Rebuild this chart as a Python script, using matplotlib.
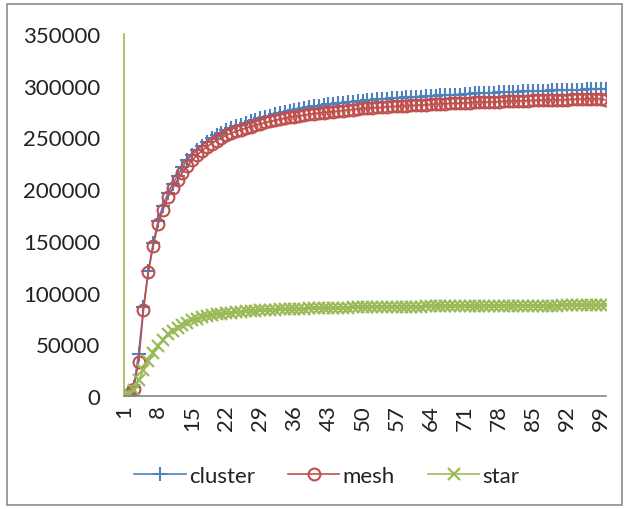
import matplotlib.pyplot as plt
from matplotlib.patches import Rectangle

x = list(range(1, 101))

cluster = [0, 2000, 9000, 41000, 86000, 121000, 148000, 169000, 184000, 196000,
           205000, 213000, 221000, 228000, 233000, 238000, 242000, 246000, 249000, 252000,
           254500, 257000, 259000, 261000, 262500, 264000, 265500, 267000, 268500, 270000,
           271000, 272500, 273500, 274500, 275500, 276500, 277500, 278500, 279000, 280000,
           280500, 281000, 282000, 282500, 283000, 283500, 284000, 284500, 285000, 285500,
           286000, 286500, 287000, 287000, 287500, 288000, 288000, 288500, 289000, 289000,
           289500, 289500, 290000, 290000, 290500, 291000, 291000, 291000, 291500, 291500,
           292000, 292000, 292500, 292500, 293000, 293000, 293000, 293500, 293500, 294000,
           294000, 294000, 294500, 294500, 294500, 295000, 295000, 295000, 295500, 295500,
           295500, 296000, 296000, 296000, 296000, 296500, 296500, 296500, 297000, 297000]

mesh = [0, 1500, 7000, 33000, 83000, 120000, 145000, 166000, 180000, 192000,
        201000, 209000, 216000, 222000, 228000, 233000, 237000, 241000, 244000, 247000,
        249500, 252000, 254000, 256000, 257500, 259000, 260500, 262000, 263000, 264500,
        265500, 266500, 267500, 268500, 269500, 270000, 271000, 271500, 272500, 273000,
        273500, 274000, 274500, 275000, 275500, 276000, 276500, 277000, 277500, 278000,
        278000, 278500, 279000, 279000, 279500, 280000, 280000, 280500, 280500, 281000,
        281000, 281500, 281500, 282000, 282000, 282500, 282500, 283000, 283000, 283000,
        283500, 283500, 284000, 284000, 284000, 284500, 284500, 284500, 285000, 285000,
        285000, 285500, 285500, 285500, 286000, 286000, 286000, 286000, 286500, 286500,
        286500, 286500, 287000, 287000, 287000, 287000, 287000, 287500, 287500, 286000]

star = [0, 2000, 6000, 15000, 25000, 34000, 42000, 48500, 54500, 59500,
        63000, 66000, 68500, 71000, 73000, 74500, 76000, 77000, 78000, 79000,
        79500, 80000, 80500, 81000, 81500, 82000, 82500, 82500, 83000, 83000,
        83500, 83500, 84000, 84000, 84000, 84500, 84500, 84500, 85000, 85000,
        85000, 85000, 85500, 85500, 85500, 85500, 85500, 86000, 86000, 86000,
        86000, 86000, 86000, 86500, 86500, 86500, 86500, 86500, 86500, 86500,
        86500, 86500, 87000, 87000, 87000, 87000, 87000, 87000, 87000, 87000,
        87000, 87000, 87000, 87000, 87000, 87500, 87500, 87500, 87500, 87500,
        87500, 87500, 87500, 87500, 87500, 87500, 87500, 87500, 87500, 87500,
        88000, 88000, 88000, 88000, 88000, 88000, 88000, 88000, 88000, 88000]

xticks = list(range(1, 100, 7))
yticks = list(range(0, 350001, 50000))

plt.rcParams['font.family'] = ['Lato', 'DejaVu Sans']

fig = plt.figure(figsize=(6.29, 5.10), dpi=100)
ax = fig.add_axes([124/629, 1-397/510, (606-124)/629, (397-35)/510])

ax.plot(x, cluster, color='#4F81BD', lw=1.2, marker='+', ms=10, mew=1.5, label='cluster')
ax.plot(x, mesh, color='#C0504D', lw=1.2, marker='o', ms=8.5, mew=1.5, mfc='none', label='mesh')
ax.plot(x, star, color='#9BBB59', lw=1.2, marker='x', ms=8.5, mew=1.6, label='star')

ax.set_xlim(1, 100)
ax.set_ylim(0, 350000)
ax.set_xticks(xticks)
ax.set_xticklabels([str(t) for t in xticks], rotation=90)
ax.set_yticks(yticks)
ax.tick_params(axis='y', length=0, pad=17, labelsize=16, colors='#222222')
ax.tick_params(axis='x', length=0, pad=6, labelsize=16, colors='#222222')

for s in ['top', 'right']:
    ax.spines[s].set_visible(False)
ax.spines['left'].set_color('#9BBB59')
ax.spines['left'].set_linewidth(1.2)
ax.spines['bottom'].set_color('#868686')
ax.spines['bottom'].set_linewidth(1.2)

fig.legend(loc='center', bbox_to_anchor=(0.52, 1-477/510), ncol=3, frameon=False,
           fontsize=16, handlelength=2.3, handletextpad=0.15, columnspacing=1.5,
           labelcolor='#222222')

fig.patches.append(Rectangle((7/629, 1-506/510), 615/629, 501/510, transform=fig.transFigure,
                             fill=False, edgecolor='#8c8c8c', lw=1.2))

fig.savefig('out.png')
